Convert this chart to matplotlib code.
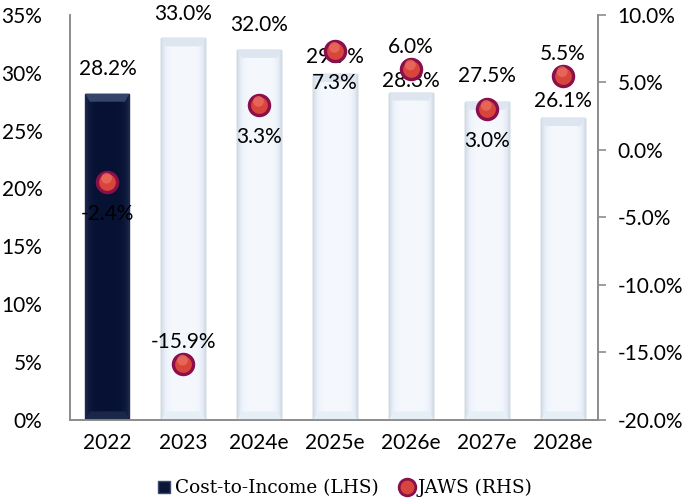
import numpy as np
import matplotlib
matplotlib.use("Agg")
from matplotlib import pyplot as plt
from matplotlib.patches import Polygon
from matplotlib.lines import Line2D

years = ["2022", "2023", "2024e", "2025e", "2026e", "2027e", "2028e"]
cost_to_income = [28.2, 33.0, 32.0, 29.9, 28.3, 27.5, 26.1]
jaws = [-2.4, -15.9, 3.3, 7.3, 6.0, 3.0, 5.5]
jaws_label_side = ["below", "above", "below", "below", "above", "below", "above"]
bar_label_offset = [25, 24, 25, 17, 12, 26, 17]

NAVY = "#0a1638"
SPHERE = "#d8453b"
SPHERE_RIM = "#8a0f4a"
AXIS_GREY = "#8c8c8c"

plt.rcParams["font.family"] = ["Lato", "DejaVu Sans"]

fig = plt.figure(figsize=(6.88, 5.03), dpi=100)
ax = fig.add_axes([0.102, 0.166, 0.767, 0.804])
ax2 = ax.twinx()

x = np.arange(len(years))
width = 0.58
bars = ax.bar(x, cost_to_income, width=width, color="white",
              edgecolor="#9aa1a9", linewidth=1.0, zorder=2)

# shaded fill for each bar, clipped to the bar outline
grad = np.linspace(-1, 1, 64)
shade = np.abs(grad) ** 6
for i, b in enumerate(bars):
    x0, h = b.get_x(), b.get_height()
    if i == 0:
        base = np.array([0.03, 0.07, 0.20])
        edge = np.array([0.12, 0.17, 0.32])
        b.set_edgecolor("#2a3550")
    else:
        base = np.array([0.96, 0.975, 0.995])
        edge = np.array([0.80, 0.85, 0.91])
    img = base[None, :] * (1 - shade[:, None]) + edge[None, :] * shade[:, None]
    im = ax.imshow(img[None, :, :], extent=[x0, x0 + width, 0, h],
                   aspect="auto", zorder=2.5, interpolation="bicubic")
    im.set_clip_path(b)
    # bevels on top and bottom of the bar
    bev = 0.1 * width
    dh = 0.7
    top_col = "#34446a" if i == 0 else "#dde6f0"
    ax.add_patch(Polygon([[x0, h], [x0 + width, h], [x0 + width - bev, h - dh],
                          [x0 + bev, h - dh]], closed=True, facecolor=top_col,
                         edgecolor="none", zorder=2.6))
    ax.add_patch(Polygon([[x0, 0], [x0 + width, 0], [x0 + width - bev, dh],
                          [x0 + bev, dh]], closed=True,
                         facecolor="#1a2748" if i == 0 else "#e6eef6",
                         edgecolor="none", zorder=2.6))
    ax.annotate(f"{h:.1f}%", (x[i], h), xytext=(0, bar_label_offset[i]),
                textcoords="offset pixels", ha="center", va="center",
                fontsize=15, zorder=5)

ax.set_xlim(-0.49, len(years) - 0.54)
ax.set_ylim(0, 35)
ax.set_yticks(np.arange(0, 36, 5))
ax.set_yticklabels([f"{v}%" for v in range(0, 36, 5)])
ax.set_xticks(x)
ax.set_xticklabels(years)

ax2.set_ylim(-20, 10)
ax2.set_yticks(np.arange(-20, 11, 5))
ax2.set_yticklabels([f"{v:.1f}%" for v in np.arange(-20, 11, 5)])

# JAWS markers drawn as shaded spheres
ax2.scatter(x, jaws, s=210, color=SPHERE, edgecolor=SPHERE_RIM,
            linewidth=2.4, zorder=6)
ax2.scatter(x - 0.01, np.array(jaws) + 0.3, s=60, color="#ee7363",
            edgecolor="none", zorder=7, alpha=0.7)
for xi, v, side in zip(x, jaws, jaws_label_side):
    dy = 22 if side == "above" else -32
    ax2.annotate(f"{v:.1f}%", (xi, v), xytext=(0, dy), textcoords="offset pixels",
                 ha="center", va="center", fontsize=15, zorder=8)

for a in (ax, ax2):
    a.spines["top"].set_visible(False)
    for s in ("left", "right", "bottom"):
        a.spines[s].set_color(AXIS_GREY)
        a.spines[s].set_linewidth(1.2)
    a.tick_params(labelsize=15)

ax.tick_params(axis="y", length=0, pad=20)
ax.tick_params(axis="x", length=0, pad=10)
ax2.tick_params(axis="y", length=6, color=AXIS_GREY, width=1.2, pad=8)
ax.set_zorder(ax2.get_zorder() - 1)
ax2.patch.set_visible(False)

handles = [
    Line2D([], [], marker="s", linestyle="none", markersize=9,
           markerfacecolor=NAVY, markeredgecolor="#3a4a70"),
    Line2D([], [], marker="o", linestyle="none", markersize=12,
           markerfacecolor=SPHERE, markeredgecolor=SPHERE_RIM, markeredgewidth=2),
]
fig.legend(handles, ["Cost-to-Income (LHS)", "JAWS (RHS)"], loc="center",
           bbox_to_anchor=(0.5, 0.03), ncol=2, frameon=False,
           prop={"family": "DejaVu Serif", "size": 13.3},
           handletextpad=0.1, columnspacing=1.0, handlelength=1.0)

fig.savefig("out.png", dpi=100)
